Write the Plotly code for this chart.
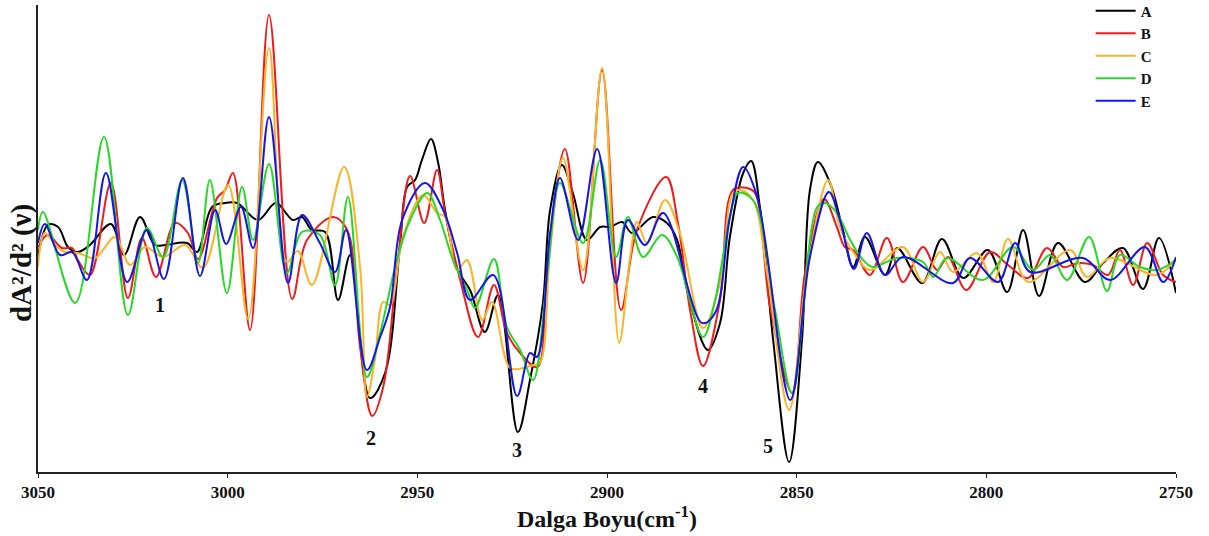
import plotly.graph_objects as go

# ---- data (wavenumber, second-derivative value, arbitrary units) ----
A_x = [3050.0, 3047.4, 3044.7, 3042.1, 3039.5, 3036.3, 3030.8, 3027.3, 3023.1, 3019.2, 3016.5, 3010.7, 3008.1,
       3004.1, 3000.7, 2997.5, 2992.0, 2987.3, 2982.8, 2980.4, 2977.8, 2974.3, 2970.9, 2967.7, 2962.5, 2958.5,
       2954.6, 2952.7, 2950.6, 2948.8, 2946.4, 2944.5, 2942.7, 2939.3, 2936.1, 2932.2, 2928.7, 2923.5, 2920.3,
       2916.9, 2915.0, 2911.9, 2909.0, 2905.3, 2901.8, 2899.2, 2896.0, 2893.4, 2887.9, 2884.2, 2881.5, 2878.9,
       2873.4, 2870.2, 2867.6, 2864.1, 2862.0, 2859.7, 2856.2, 2852.0, 2848.6, 2846.5, 2844.4, 2841.2, 2837.8,
       2835.1, 2832.0, 2826.7, 2823.5, 2816.9, 2811.7, 2806.1, 2799.6, 2794.5, 2790.3, 2786.1, 2781.1, 2774.0,
       2769.2, 2764.0, 2758.7, 2754.5, 2750.0]
A_y = [3, 35, 33, 13, 8, 15, 36, 5, 43, 15, 15, 17, 8,
       53, 57, 57, 40, 57, 40, 43, 30, 28, -40, 5, -138, -113,
       13, 73, 80, 100, 121, 97, 50, -10, -30, -72, -35, -172, -120,
       -43, 50, 95, 67, 20, 33, 33, 38, 27, 43, 37, 20, -30,
       -90, -63, 23, 87, 99, 53, -80, -202, -80, 70, 98, 77, 30,
       -7, 23, -15, 12, -23, 21, -18, 10, -32, 30, -36, 17, -22,
       -3, 12, -29, 22, -33]

B_x = [3050.0, 3047.4, 3043.7, 3041.0, 3039.5, 3036.3, 3030.8, 3026.3, 3022.6, 3018.9, 3013.9, 3010.5, 3007.8,
       3002.8, 3000.7, 2998.6, 2994.1, 2989.1, 2983.0, 2979.1, 2972.2, 2968.5, 2965.1, 2961.9, 2959.0, 2955.4,
       2951.9, 2948.2, 2944.8, 2942.7, 2938.7, 2934.0, 2929.8, 2926.4, 2922.9, 2918.4, 2915.8, 2911.1, 2906.3,
       2901.3, 2896.3, 2892.1, 2884.4, 2881.3, 2878.1, 2874.7, 2870.2, 2866.8, 2863.1, 2861.0, 2857.0, 2851.2,
       2847.8, 2842.8, 2839.4, 2837.3, 2835.1, 2830.7, 2826.2, 2822.0, 2816.7, 2813.0, 2810.1, 2805.3, 2799.0,
       2794.3, 2789.0, 2784.0, 2779.8, 2775.8, 2771.9, 2767.9, 2764.8, 2761.3, 2757.6, 2753.4, 2750.0]
B_y = [13, 25, 12, 12, 0, -15, 77, -38, 22, -17, 37, 27, 1,
       62, 70, 87, -70, 245, -39, 20, 43, 30, -87, -156, -127, -10,
       84, 37, 90, 47, -20, -77, -25, -73, -93, -107, -10, 111, -23,
       190, -50, 30, 83, 37, -50, -106, -40, 70, 72, 67, -47, -133,
       -13, 61, 33, 13, 10, -15, 22, -22, 13, -10, 3, -30, 8,
       -5, -18, 12, -7, -3, -5, -15, 10, -25, 17, -15, -22]

C_x = [3050.0, 3048.2, 3045.0, 3042.9, 3039.5, 3035.0, 3029.7, 3025.7, 3021.8, 3017.0, 3011.2, 3006.5, 2999.9,
       2994.6, 2989.1, 2984.4, 2981.5, 2977.8, 2969.3, 2965.1, 2963.3, 2961.2, 2959.0, 2957.2, 2953.8, 2948.5,
       2944.8, 2942.7, 2939.5, 2936.9, 2932.9, 2930.3, 2925.6, 2922.1, 2919.5, 2917.7, 2915.0, 2911.6, 2906.3,
       2901.3, 2896.8, 2893.9, 2892.1, 2889.5, 2884.7, 2880.8, 2874.7, 2870.2, 2866.8, 2864.9, 2861.5, 2857.8,
       2852.0, 2847.3, 2841.7, 2838.6, 2835.1, 2830.7, 2822.0, 2816.7, 2812.2, 2808.8, 2802.5, 2798.2, 2794.3,
       2789.0, 2777.9, 2773.5, 2767.4, 2755.0, 2750.0]
C_y = [-7, 27, 13, 8, 7, 2, 23, -5, 13, 3, 15, -8, 75,
       -59, 212, -2, 9, -25, 93, -7, -137, -100, -42, -45, 23, 65,
       47, 43, -10, 0, -60, -42, -108, -108, -105, -103, 10, 102, -10,
       192, -83, 3, 38, 17, 60, 27, -68, -23, 67, 70, 60, -13,
       -150, -13, 80, 33, 8, -10, 13, -22, 8, -12, 7, -22, 21,
       -22, 10, -17, 2, -15, 2]

D_x = [3050.0, 3048.7, 3040.2, 3032.6, 3026.3, 3021.3, 3017.0, 3012.0, 3007.8, 3004.7, 3000.2, 2996.2, 2993.3,
       2989.1, 2984.4, 2980.4, 2975.7, 2971.7, 2968.3, 2963.3, 2959.8, 2955.4, 2951.9, 2947.4, 2944.0, 2940.6,
       2936.9, 2934.8, 2929.8, 2926.4, 2922.9, 2919.5, 2915.6, 2912.4, 2906.3, 2901.8, 2897.6, 2894.5, 2890.5,
       2885.5, 2881.5, 2874.7, 2871.5, 2867.6, 2865.5, 2861.5, 2855.7, 2851.2, 2844.6, 2842.5, 2839.4, 2835.9,
       2832.5, 2829.9, 2823.5, 2816.7, 2814.0, 2810.4, 2800.9, 2793.0, 2787.7, 2783.2, 2778.7, 2772.9, 2768.2,
       2764.8, 2759.5, 2755.0, 2750.0]
D_y = [30, 48, -43, 123, -55, 32, 3, 80, -3, 80, -33, 73, 20,
       96, -13, 28, 25, -25, 63, -117, -73, 0, 40, 67, 40, 0,
       -30, -48, 1, -67, -90, -120, -10, 77, 17, 100, 3, 43, 3,
       25, 3, -77, -40, 43, 67, 60, -50, -133, 53, 57, 47, 20,
       0, -7, 2, -2, -17, 2, -20, 13, -10, 5, -20, 23, -31,
       5, -7, -10, 0]

E_x = [3050.0, 3048.2, 3044.2, 3041.0, 3037.1, 3032.1, 3026.5, 3021.3, 3016.8, 3011.8, 3007.3, 3003.3, 3000.4,
       2996.5, 2993.3, 2989.1, 2984.1, 2980.4, 2975.7, 2971.7, 2968.8, 2963.3, 2959.8, 2957.2, 2954.0, 2948.0,
       2943.2, 2939.5, 2936.1, 2930.0, 2923.7, 2920.3, 2918.5, 2915.0, 2912.4, 2907.6, 2902.6, 2897.6, 2894.5,
       2890.0, 2885.2, 2874.9, 2871.5, 2867.6, 2864.1, 2860.4, 2851.7, 2846.5, 2841.5, 2838.6, 2834.9, 2831.5,
       2826.7, 2822.0, 2808.8, 2804.3, 2796.9, 2792.4, 2788.5, 2774.5, 2767.4, 2758.2, 2753.4, 2750.0]
E_y = [17, 36, 5, 8, -20, 87, -22, 30, -19, 82, -16, 50, 16,
       53, 12, 143, -23, 45, 17, -12, 30, -110, -77, -47, 40, 77,
       50, 7, -40, -15, -136, -93, -97, 27, 82, 20, 111, -23, 40,
       15, 47, -63, -53, 43, 93, 63, -140, 3, 68, 40, -9, 27,
       -15, 3, -23, 2, -22, 17, -12, 2, -20, 13, -22, 3]

series_names = ["A", "B", "C", "D", "E"]
series_colors = ["#000000", "#ee1c1c", "#f9b42a", "#27d827", "#1616e8"]

label_text = ["1", "2", "3", "4", "5"]
label_x = [3017.8, 2962.2, 2923.7, 2874.7, 2857.6]
label_y = [-45, -178, -190, -126, -186]

x_ticks = [3050, 3000, 2950, 2900, 2850, 2800, 2750]

SERIF = "Liberation Serif"

fig = go.Figure()
all_x = [A_x, B_x, C_x, D_x, E_x]
all_y = [A_y, B_y, C_y, D_y, E_y]
for name, color, xs, ys in zip(series_names, series_colors, all_x, all_y):
    fig.add_trace(go.Scatter(
        x=xs, y=ys, name=name, mode="lines",
        line=dict(color=color, width=2, shape="spline", smoothing=1.0),
    ))

for t, lx, ly in zip(label_text, label_x, label_y):
    fig.add_annotation(x=lx, y=ly, text=t, showarrow=False,
                       font=dict(family=SERIF, size=20, color="#111", weight="bold"))

fig.add_annotation(xref="paper", yref="paper", x=-0.015, y=0.4475, text="dA²/d² (ν)",
                   textangle=-90, showarrow=False, xanchor="center", yanchor="middle",
                   font=dict(family=SERIF, size=29, color="#111", weight="bold"))

fig.update_layout(
    width=1209, height=536,
    margin=dict(l=38, r=33, t=5, b=64, autoexpand=False),
    paper_bgcolor="white", plot_bgcolor="white",
    showlegend=True,
    legend=dict(x=0.925, y=1.0225, xanchor="left", yanchor="top", yref="paper",
                font=dict(family=SERIF, size=15, color="#111", weight="bold"),
                bgcolor="rgba(0,0,0,0)", itemwidth=40, tracegroupgap=0),
    xaxis=dict(range=[3050, 2750], tickvals=x_ticks, ticks="outside", ticklen=4,
               tickcolor="#222", showline=True, linecolor="#222", linewidth=1.5,
               showgrid=False, zeroline=False,
               tickfont=dict(family=SERIF, size=17, color="#111", weight="bold"),
               title=dict(text="Dalga Boyu(cm<sup>-1</sup>)", standoff=4,
                          font=dict(family=SERIF, size=24, color="#111", weight="bold"))),
    yaxis=dict(range=[-212, 255], showticklabels=False, ticks="", showline=True,
               linecolor="#222", linewidth=1.5, showgrid=False, zeroline=False),
)

fig.write_html("out.html", config={"displayModeBar": False},
               post_script="document.body.style.margin='0';")
